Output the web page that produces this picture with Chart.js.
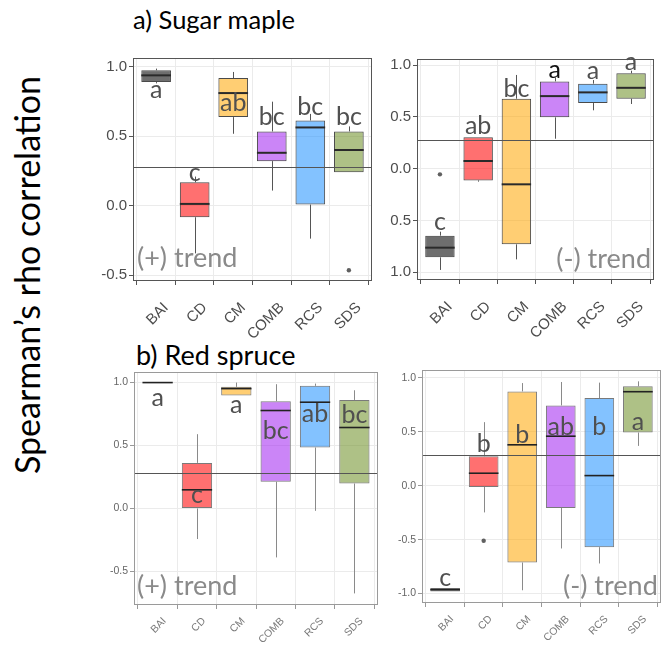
<!DOCTYPE html>
<html><head><meta charset="utf-8">
<script src="https://cdn.jsdelivr.net/npm/chart.js@4"></script>
<style>
html,body{margin:0;padding:0;}
body{width:661px;height:645px;overflow:hidden;background:#fff;position:relative;}
canvas{position:absolute;}
.title{position:absolute;font-family:Lato,sans-serif;color:#000;white-space:nowrap;}
#ytitle{position:absolute;left:27px;top:275px;width:0;height:0;}
#ytitle span{position:absolute;left:0;top:0;transform:translate(-50%,-50%) rotate(-90deg);font-family:Lato,sans-serif;font-size:34px;color:#000;white-space:nowrap;line-height:34px;}
</style></head><body>
<div class="title" style="left:133px;top:6px;font-size:25.5px;line-height:26px;">a) Sugar maple</div>
<div class="title" style="left:136px;top:341px;font-size:27px;line-height:27px;">b) Red spruce</div>
<div id="ytitle"><span>Spearman’s rho correlation</span></div>
<canvas id="c1" width="284" height="313" style="left:93px;top:38px;"></canvas>
<canvas id="c2" width="284" height="311" style="left:377px;top:39px;"></canvas>
<canvas id="c3" width="289" height="298" style="left:94px;top:352px;"></canvas>
<canvas id="c4" width="283" height="298" style="left:382px;top:350px;"></canvas>
<script>
// ---------- data ----------
const categories = ['BAI','CD','CM','COMB','RCS','SDS'];
const refLine = 0.28;

// a) Sugar maple, (+) trend
const smPosMin = [0.88, -0.344, 0.517, 0.108, -0.238, 0.24];
const smPosQ1  = [0.889, -0.084, 0.637, 0.32, 0.007, 0.24];
const smPosMed = [0.9375, 0.012, 0.81, 0.38, 0.5625, 0.40];
const smPosQ3  = [0.974, 0.168, 0.918, 0.534, 0.613, 0.534];
const smPosMax = [0.986, 0.209, 0.962, 0.748, 0.66, 0.57];
const smPosOut = [[], [], [], [], [], [-0.466]];
const smPosLetters = ['a', 'c', 'ab', 'bc', 'bc', 'bc'];
const smPosLetterY = [0.774, 0.18, 0.678, 0.577, 0.654, 0.577];
const smPosTicks = [-0.5, 0.0, 0.5, 1.0];
const smPosTickLabels = ['-0.5', '0.0', '0.5', '1.0'];

// a) Sugar maple, (-) trend
const smNegMin = [-0.977, -0.125, -0.875, 0.289, 0.563, 0.624];
const smNegQ1  = [-0.855, -0.113, -0.73, 0.495, 0.633, 0.675];
const smNegMed = [-0.762, 0.074, -0.151, 0.70, 0.736, 0.78];
const smNegQ3  = [-0.646, 0.302, 0.675, 0.842, 0.82, 0.92];
const smNegMax = [-0.608, 0.302, 0.904, 0.88, 0.855, 0.945];
const smNegOut = [[-0.055], [], [], [], [], []];
const smNegLetters = ['c', 'ab', 'bc', 'a', 'a', 'a'];
const smNegLetterY = [-0.592, 0.331, 0.688, 0.878, 0.862, 0.952];
const smNegTicks = [-1.0, -0.5, 0.0, 0.5, 1.0];
const smNegTickLabels = ['1.0', '0.5', '0.0', '0.5', '1.0'];

// b) Red spruce, (+) trend
const rsPosMin = [1.0, -0.243, 0.897, -0.389, -0.019, -0.675];
const rsPosQ1  = [1.0, 0.0, 0.897, 0.212, 0.484, 0.198];
const rsPosMed = [1.0, 0.148, 0.952, 0.778, 0.844, 0.643];
const rsPosQ3  = [1.0, 0.362, 0.966, 0.852, 0.974, 0.862];
const rsPosMax = [1.0, 0.59, 1.0, 0.987, 0.992, 0.939];
const rsPosOut = [[], [], [], [], [], []];
const rsPosLetters = ['a', 'c', 'a', 'bc', 'ab', 'bc'];
const rsPosLetterY = [0.815, 0.04, 0.759, 0.548, 0.688, 0.675];
const rsPosTicks = [-0.5, 0.0, 0.5, 1.0];
const rsPosTickLabels = ['-0.5', '0.0', '0.5', '1.0'];

// b) Red spruce, (-) trend
const rsNegMin = [-0.981, -0.248, -0.969, -0.582, -0.721, 0.368];
const rsNegQ1  = [-0.981, -0.012, -0.712, -0.207, -0.57, 0.492];
const rsNegMed = [-0.963, 0.115, 0.378, 0.458, 0.093, 0.87];
const rsNegQ3  = [-0.947, 0.272, 0.873, 0.743, 0.811, 0.92];
const rsNegMax = [-0.947, 0.588, 0.95, 0.96, 0.954, 0.966];
const rsNegOut = [[], [-0.511], [], [], [], []];
const rsNegLetters = ['c', 'b', 'b', 'ab', 'b', 'a'];
const rsNegLetterY = [-0.929, 0.316, 0.393, 0.471, 0.471, 0.511];
const rsNegTicks = [-1.0, -0.5, 0.0, 0.5, 1.0];
const rsNegTickLabels = ['-1.0', '-0.5', '0.0', '0.5', '1.0'];

const trendPos = '(+) trend';
const trendNeg = '(-) trend';

// ---------- styles ----------
const fills = ['rgba(0,0,0,0.57)','rgba(255,0,0,0.56)','rgba(255,165,0,0.55)','rgba(160,32,240,0.55)','rgba(30,144,255,0.55)','rgba(107,142,35,0.55)'];

function makePlugin(p){
  return {
    id: 'boxExtras',
    beforeDatasetsDraw(chart){
      const {ctx, scales:{x, y}} = chart;
      ctx.save();
      ctx.strokeStyle = p.whiskerColor; ctx.lineWidth = 1;
      categories.forEach((c,i)=>{
        const px = Math.round(x.getPixelForValue(i+1)) + 0.5;
        ctx.beginPath();
        ctx.moveTo(px, y.getPixelForValue(p.max[i]));
        ctx.lineTo(px, y.getPixelForValue(p.q3[i]));
        ctx.moveTo(px, y.getPixelForValue(p.q1[i]));
        ctx.lineTo(px, y.getPixelForValue(p.min[i]));
        ctx.stroke();
      });
      ctx.restore();
    },
    afterDatasetsDraw(chart){
      const {ctx, chartArea:a, scales:{x, y}} = chart;
      const meta = chart.getDatasetMeta(0);
      ctx.save();
      // medians
      ctx.strokeStyle = p.medianColor; ctx.lineWidth = p.medianWidth;
      categories.forEach((c,i)=>{
        const px = x.getPixelForValue(i+1);
        const w = meta.data[i].width;
        const py = y.getPixelForValue(p.med[i]);
        ctx.beginPath(); ctx.moveTo(px - w/2, py); ctx.lineTo(px + w/2, py); ctx.stroke();
      });
      // reference line
      const ry = Math.round(y.getPixelForValue(refLine)) + 0.5;
      ctx.strokeStyle = p.refColor; ctx.lineWidth = 1;
      ctx.beginPath(); ctx.moveTo(a.left, ry); ctx.lineTo(a.right, ry); ctx.stroke();
      // panel border
      ctx.strokeStyle = p.borderColor; ctx.lineWidth = 1;
      ctx.strokeRect(Math.round(a.left)+0.5, Math.round(a.top)+0.5, Math.round(a.right-a.left)-1, Math.round(a.bottom-a.top)-1);
      // letters
      ctx.font = p.letterFont; ctx.textAlign = 'center'; ctx.textBaseline = 'alphabetic';
      categories.forEach((c,i)=>{
        ctx.fillStyle = (p.letterColors && p.letterColors[i]) || '#505050';
        ctx.fillText(p.letters[i], x.getPixelForValue(i+1), y.getPixelForValue(p.letterY[i]));
      });
      // trend label
      ctx.font = p.trendFont; ctx.fillStyle = '#8a8a8a';
      ctx.textAlign = p.trendAlign;
      const tx = p.trendAlign === 'left' ? a.left + p.trendDx : a.right - p.trendDx;
      ctx.fillText(p.trend, tx, a.bottom - p.trendDy);
      ctx.restore();
    }
  };
}

function makeChart(id, p){
  const outPts = [];
  p.out.forEach((arr,i)=>arr.forEach(v=>outPts.push({x:i+1, y:v})));
  return new Chart(document.getElementById(id), {
    type: 'bar',
    data: { datasets: [
      { type:'bar', data: categories.map((c,i)=>({x:i+1, y:[p.q1[i], p.q3[i]]})),
        backgroundColor: fills, borderColor: p.boxBorder, borderWidth: 1, borderSkipped: false,
        barPercentage: 0.77, categoryPercentage: 1, order: 2 },
      { type:'scatter', data: outPts, pointRadius: 2.2, pointBackgroundColor: '#606060', pointBorderWidth: 0, order: 1 }
    ]},
    options: {
      responsive: false, animation: false, events: [],
      layout: { padding: { top: 20, right: p.padRight, left: 0, bottom: 0 } },
      plugins: { legend: { display: false }, tooltip: { enabled: false } },
      scales: {
        x: {
          type: 'linear', min: 0.4, max: 6.6, offset: false,
          afterBuildTicks: s => { s.ticks = categories.map((c,i)=>({value: i+1})); },
          afterFit: s => { s.height = p.xAxisH; s.paddingLeft = 0; s.paddingRight = 0; },
          ticks: { autoSkip: false, minRotation: 45, maxRotation: 45,
            callback: (v) => categories[Math.round(v)-1],
            font: { family: 'Liberation Sans', size: p.xFont }, color: p.xColor,
            padding: p.xPad, labelOffset: p.xOffset },
          grid: { color: '#ebebeb', lineWidth: 1, tickColor: p.tickColor, tickLength: 4 },
          border: { display: false }
        },
        y: {
          type: 'linear', min: p.ymin, max: p.ymax,
          afterBuildTicks: s => { s.ticks = p.ticks.map(v=>({value: v})); },
          afterFit: s => { s.width = 40; s.paddingTop = 0; s.paddingBottom = 0; },
          ticks: { callback: (v, i) => p.tickLabels[i],
            font: { family: 'Liberation Sans', size: p.yFont }, color: p.yColor, padding: 2 },
          grid: { color: '#ebebeb', lineWidth: 1, tickColor: p.tickColor, tickLength: 4 },
          border: { display: false }
        }
      }
    },
    plugins: [makePlugin(p)]
  });
}

const topStyle = { boxBorder:'#4a4a4a', whiskerColor:'#555', medianColor:'#2a2a2a', medianWidth:2,
  refColor:'#555', borderColor:'#555', letterFont:'25px Lato', trendFont:'27px Lato',
  xFont:15, xColor:'#4d4d4d', yFont:15, yColor:'#4d4d4d', tickColor:'#555', xPad:14, xOffset:10, xAxisH:70 };
const botStyle = { boxBorder:'#7a7a7a', whiskerColor:'#8a8a8a', medianColor:'#222', medianWidth:1.6,
  refColor:'#555', borderColor:'#9a9a9a', letterFont:'25px Lato', trendFont:'27px Lato',
  xFont:10.5, xColor:'#7a7a7a', yFont:10.5, yColor:'#666', tickColor:'#999', xPad:6, xOffset:7, xAxisH:45 };

makeChart('c1', Object.assign({}, topStyle, {
  min: smPosMin, q1: smPosQ1, med: smPosMed, q3: smPosQ3, max: smPosMax, out: smPosOut,
  letters: smPosLetters, letterY: smPosLetterY, ticks: smPosTicks, tickLabels: smPosTickLabels,
  ymin: -0.543, ymax: 1.0625, padRight: 5, trend: trendPos, trendAlign: 'left', trendDx: 4, trendDy: 14 }));
makeChart('c2', Object.assign({}, topStyle, {
  min: smNegMin, q1: smNegQ1, med: smNegMed, q3: smNegQ3, max: smNegMax, out: smNegOut,
  letters: smNegLetters, letterY: smNegLetterY, letterColors: [null,null,null,'#111',null,null],
  ticks: smNegTicks, tickLabels: smNegTickLabels,
  ymin: -1.074, ymax: 1.058, padRight: 7, trend: trendNeg, trendAlign: 'right', trendDx: 3, trendDy: 12 }));
makeChart('c3', Object.assign({}, botStyle, {
  min: rsPosMin, q1: rsPosQ1, med: rsPosMed, q3: rsPosQ3, max: rsPosMax, out: rsPosOut,
  letters: rsPosLetters, letterY: rsPosLetterY, ticks: rsPosTicks, tickLabels: rsPosTickLabels,
  ymin: -0.767, ymax: 1.084, padRight: 5, trend: trendPos, trendAlign: 'left', trendDx: 3, trendDy: 10 }));
makeChart('c4', Object.assign({}, botStyle, {
  min: rsNegMin, q1: rsNegQ1, med: rsNegMed, q3: rsNegQ3, max: rsNegMax, out: rsNegOut,
  letters: rsNegLetters, letterY: rsNegLetterY, ticks: rsNegTicks, tickLabels: rsNegTickLabels,
  ymin: -1.087, ymax: 1.071, padRight: 0, trend: trendNeg, trendAlign: 'left', trendDx: 141, trendDy: 8 }));
</script>
</body></html>
